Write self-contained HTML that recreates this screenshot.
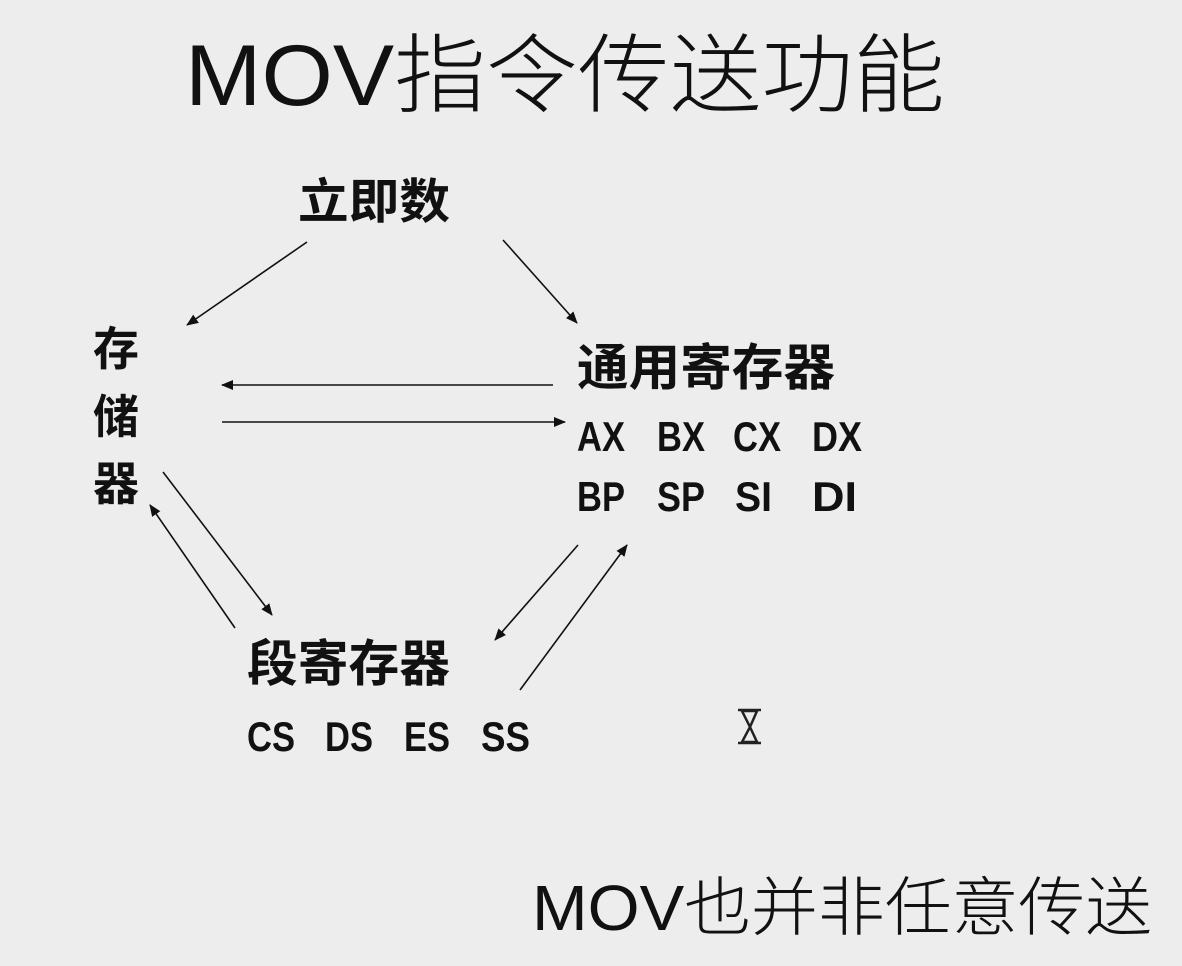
<!DOCTYPE html>
<html><head><meta charset="utf-8"><style>
html,body{margin:0;padding:0;background:#ededed;}
svg{display:block}
text{font-family:"Liberation Sans","Noto Sans CJK SC",sans-serif;fill:#111}
.r{font-size:42px;font-weight:bold}
</style></head><body>
<svg width="1182" height="966" viewBox="0 0 1182 966">
<defs><marker id="a" markerWidth="12" markerHeight="10" refX="11" refY="5" orient="auto" markerUnits="userSpaceOnUse"><path d="M0,0 L12,5 L0,10 Z" fill="#111"/></marker></defs>
<rect width="1182" height="966" fill="#ededed"/>
<text x="185" y="105" font-size="86" font-weight="300" textLength="760" lengthAdjust="spacingAndGlyphs">MOV指令传送功能</text>
<text x="298" y="218" font-size="48" font-weight="bold" textLength="152" lengthAdjust="spacingAndGlyphs">立即数</text>
<text x="93" y="365" font-size="46" font-weight="bold">存</text>
<text x="93" y="433" font-size="46" font-weight="bold">储</text>
<text x="93" y="500" font-size="46" font-weight="bold">器</text>
<text x="577" y="385" font-size="50" font-weight="bold" textLength="258" lengthAdjust="spacingAndGlyphs">通用寄存器</text>
<g class="r">
<text x="577" y="451" textLength="48" lengthAdjust="spacingAndGlyphs">AX</text>
<text x="657" y="451" textLength="48" lengthAdjust="spacingAndGlyphs">BX</text>
<text x="733" y="451" textLength="48" lengthAdjust="spacingAndGlyphs">CX</text>
<text x="812" y="451" textLength="50" lengthAdjust="spacingAndGlyphs">DX</text>
<text x="577" y="511" textLength="48" lengthAdjust="spacingAndGlyphs">BP</text>
<text x="657" y="511" textLength="48" lengthAdjust="spacingAndGlyphs">SP</text>
<text x="735" y="511" textLength="37" lengthAdjust="spacingAndGlyphs">SI</text>
<text x="812" y="511" textLength="45" lengthAdjust="spacingAndGlyphs">DI</text>
<text x="247" y="751" textLength="48" lengthAdjust="spacingAndGlyphs">CS</text>
<text x="325" y="751" textLength="48" lengthAdjust="spacingAndGlyphs">DS</text>
<text x="404" y="751" textLength="46" lengthAdjust="spacingAndGlyphs">ES</text>
<text x="481" y="751" textLength="49" lengthAdjust="spacingAndGlyphs">SS</text>
</g>
<text x="247" y="681" font-size="50" font-weight="bold" textLength="203" lengthAdjust="spacingAndGlyphs">段寄存器</text>
<text x="532" y="930" font-size="64" font-weight="300" textLength="620" lengthAdjust="spacingAndGlyphs">MOV也并非任意传送</text>
<g stroke="#111" stroke-width="1.6" fill="none" marker-end="url(#a)">
<line x1="307" y1="242" x2="187" y2="325"/>
<line x1="503" y1="240" x2="577" y2="323"/>
<line x1="553" y1="385" x2="222" y2="385"/>
<line x1="222" y1="422" x2="565" y2="422"/>
<line x1="163" y1="472" x2="272" y2="615"/>
<line x1="235" y1="628" x2="150" y2="505"/>
<line x1="578" y1="545" x2="495" y2="640"/>
<line x1="520" y1="690" x2="627" y2="545"/>
</g>
<g stroke="#222" stroke-width="2.5" fill="none">
<line x1="738" y1="710" x2="761" y2="710"/><line x1="738" y1="743" x2="761" y2="743"/>
<path d="M742,711 L757,711 L750,727 L757,742 L742,742 L750,727 Z"/>
</g>
</svg>
</body></html>
